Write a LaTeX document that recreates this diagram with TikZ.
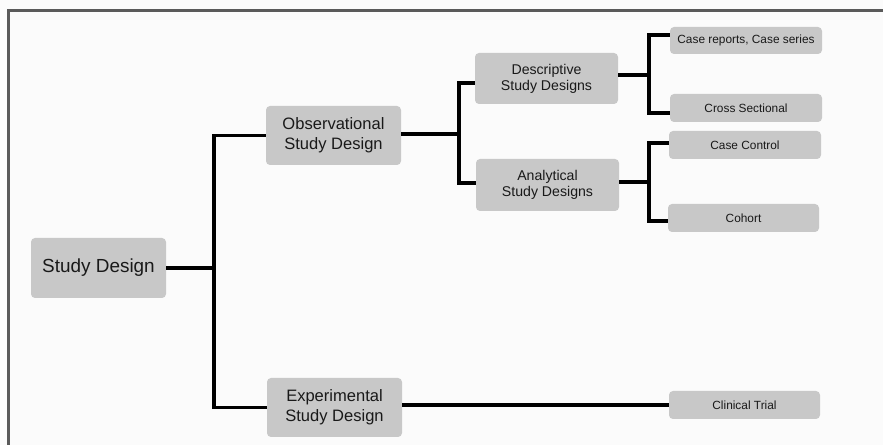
\documentclass[tikz,border=0pt]{standalone}
\usepackage{fontspec}
\setmainfont{Liberation Sans}
\usetikzlibrary{calc}
\definecolor{boxgray}{RGB}{200,200,200}
\definecolor{txtgray}{RGB}{25,25,25}
\definecolor{framegray}{RGB}{90,90,90}
\definecolor{bggray}{RGB}{251,251,251}
\begin{document}
\begin{tikzpicture}[x=0.75pt,y=-0.75pt,
  box/.style={fill=boxgray,rounded corners=3pt,inner sep=0pt,align=center,text=txtgray},
  bigbox/.style={box,font=\fontsize{14.2pt}{17pt}\selectfont},
  midbox/.style={box,font=\fontsize{12.4pt}{15pt}\selectfont},
  descbox/.style={box,font=\fontsize{10.6pt}{12pt}\selectfont},
  leafbox/.style={box,font=\fontsize{8.9pt}{10.5pt}\selectfont},
  conn/.style={draw=black,line width=2.3pt}]
\fill[bggray] (0,0) rectangle (883,445);
\useasboundingbox (0,0) rectangle (883,445);
\draw[framegray,line width=1.6pt] (8.5,445) -- (8.5,10.5) -- (883,10.5);
% nodes
\node[bigbox,minimum width=101.25pt,minimum height=45pt] (sd) at (98.5,268) {Study Design};
\node[midbox,minimum width=101.25pt,minimum height=44.25pt] (obs) at (333.5,135.5) {Observational\\Study Design};
\node[midbox,minimum width=101.25pt,minimum height=44.25pt] (exp) at (334.5,407.5) {Experimental\\Study Design};
\node[descbox,minimum width=107.25pt,minimum height=38.25pt] (desc) at (546.5,78.5) {Descriptive\\Study Designs};
\node[descbox,minimum width=107.25pt,minimum height=39pt] (anal) at (547.5,185) {Analytical\\Study Designs};
\node[leafbox,minimum width=114pt,minimum height=20.25pt] (cr) at (746,40.5) {Case reports, Case series};
\node[leafbox,minimum width=114pt,minimum height=21pt] (cs) at (746,108) {Cross Sectional};
\node[leafbox,minimum width=114pt,minimum height=21pt] (cc) at (745,145) {Case Control};
\node[leafbox,minimum width=113.25pt,minimum height=21pt] (co) at (743.5,218) {Cohort};
\node[leafbox,minimum width=113.25pt,minimum height=21pt] (ct) at (744.5,405) {Clinical Trial};
% junctions
\coordinate (j1) at (214,268);
\coordinate (j2) at (459,134);
\coordinate (j3) at (649,75);
\coordinate (j4) at (649,182);
% connectors
\draw[conn] (sd.east) -- (j1);
\draw[conn] (obs.west) -| (j1) |- (exp.west);
\draw[conn] (obs.east |- j2) -- (j2);
\draw[conn] ($(desc.west)+(0,4.5)$) -| (j2) |- ($(anal.west)+(0,-2)$);
\draw[conn] (desc.east |- j3) -- (j3);
\draw[conn] ($(cr.west)+(0,-5.5)$) -| (j3) |- ($(cs.west)+(0,5)$);
\draw[conn] (anal.east |- j4) -- (j4);
\draw[conn] ($(cc.west)+(0,-2)$) -| (j4) |- ($(co.west)+(0,3)$);
\draw[conn] (exp.east |- ct.west) -- (ct.west);
\end{tikzpicture}
\end{document}
